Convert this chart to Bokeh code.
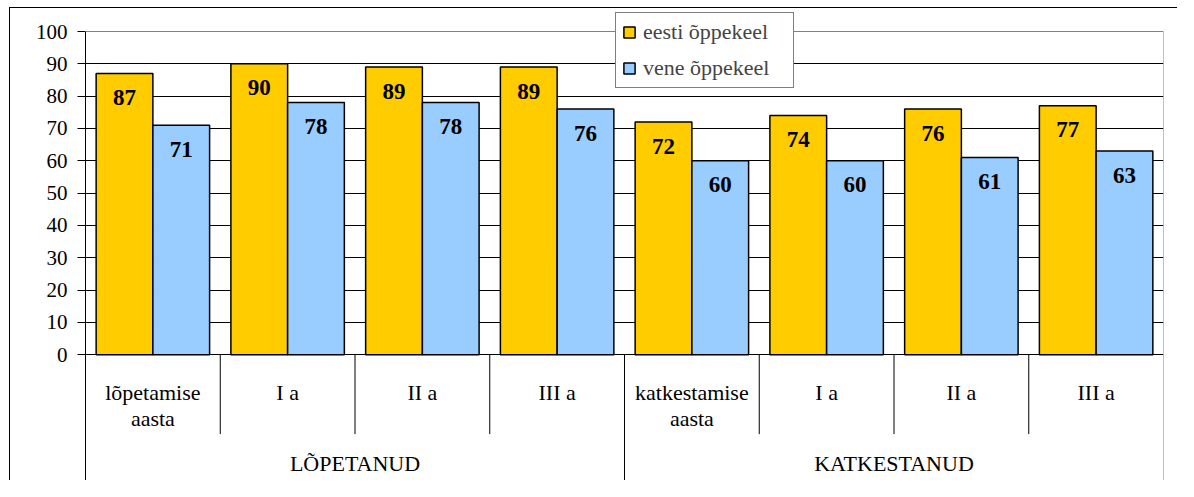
from bokeh.plotting import figure
from bokeh.layouts import column
from bokeh.models import ColumnDataSource, Range1d, FixedTicker, Span, Legend, LegendItem
from bokeh.core.properties import value
from bokeh.embed import file_html
from bokeh.resources import INLINE

# ---- data ----
categories = ["lõpetamise\naasta", "I a", "II a", "III a",
              "katkestamise\naasta", "I a", "II a", "III a"]
groups = ["LÕPETANUD", "KATKESTANUD"]
group_sizes = [4, 4]
series_names = ["eesti õppekeel", "vene õppekeel"]
eesti = [87, 90, 89, 89, 72, 74, 76, 77]
vene = [71, 78, 78, 76, 60, 60, 61, 63]
y_ticks = list(range(0, 101, 10))

# ---- layout ----
FONT = "Liberation Serif"
PAD_L, PAD_T = 9, 7
W, H = 1178 - PAD_L - 1, 481 - PAD_T - 1      # canvas size (1px border top/left)
ML, MR = 75, 15
PX_PER_100 = 323.25
Y100 = 23.0                                     # canvas y of the 100 line
Y0 = Y100 + PX_PER_100                          # canvas y of the 0 line
u = 100 / 334.0                                 # data units per reference pixel
y_top = 100 + Y100 * 100 / PX_PER_100
y_min = -(H - Y0) * 100 / PX_PER_100

n = len(categories)
p = figure(width=W, height=H, x_range=Range1d(0, n), y_range=Range1d(y_min, y_top),
           output_backend="svg", toolbar_location=None, title=None,
           x_axis_location=None,
           min_border_left=ML, min_border_top=0, min_border_right=MR, min_border_bottom=0)
p.styles = {"border-top": "1px solid #000", "border-left": "1px solid #000"}
p.outline_line_color = None
p.background_fill_color = "white"
p.border_fill_color = "white"

p.xgrid.visible = False
p.ygrid.ticker = FixedTicker(ticks=y_ticks[:-1])
p.ygrid.grid_line_color = "black"
p.ygrid.grid_line_width = 1

ax = p.yaxis[0]
ax.ticker = FixedTicker(ticks=y_ticks)
ax.bounds = (y_min, 100)
ax.axis_line_color = "black"
ax.major_tick_line_color = "black"
ax.major_tick_out = 8
ax.major_tick_in = 0
ax.minor_tick_line_color = None
ax.major_label_standoff = 10
ax.major_label_text_font = FONT
ax.major_label_text_font_size = "21px"
ax.major_label_text_color = "black"

p.add_layout(Span(location=100, dimension="width", line_color="#808080", line_width=1))
p.segment(x0=[n], y0=[y_min], x1=[n], y1=[100], line_color="#808080", line_width=1)

off = 0.2105
bw = 0.421
src = ColumnDataSource(dict(
    x_e=[i + 0.5 - off for i in range(n)],
    x_v=[i + 0.5 + off for i in range(n)],
    eesti=eesti, vene=vene,
    lab_e=[str(v) for v in eesti], lab_v=[str(v) for v in vene],
))
r1 = p.vbar(x="x_e", top="eesti", bottom=0, width=bw, fill_color="#FFCC00",
            line_color="black", line_width=1.5, source=src)
r2 = p.vbar(x="x_v", top="vene", bottom=0, width=bw, fill_color="#99CCFF",
            line_color="black", line_width=1.5, source=src)
for xc, yc, lab in (("x_e", "eesti", "lab_e"), ("x_v", "vene", "lab_v")):
    p.text(x=xc, y=yc, text=lab, source=src, text_font=value(FONT),
           text_font_style="bold", text_font_size="23px", text_color="black",
           text_align="center", text_baseline="middle", y_offset=24)

# category labels
lines1 = [c.split("\n")[0] for c in categories]
lines2 = [c.split("\n")[1] if "\n" in c else "" for c in categories]
csrc = ColumnDataSource(dict(x=[i + 0.5 for i in range(n)], l1=lines1, l2=lines2))
p.text(x="x", y=-39 * u, text="l1", source=csrc, text_font=value(FONT),
       text_font_size="22px", text_color="black", text_align="center", text_baseline="middle")
p.text(x="x", y=-66 * u, text="l2", source=csrc, text_font=value(FONT),
       text_font_size="22px", text_color="black", text_align="center", text_baseline="middle")

# separators
bounds = []
s = 0
for g in group_sizes:
    s += g
    bounds.append(s)
short_x = [i for i in range(1, n) if i not in bounds]
long_x = [b for b in bounds if b < n]
p.segment(x0=short_x, y0=[0] * len(short_x), x1=short_x, y1=[-82 * u] * len(short_x),
          line_color="black", line_width=1)
p.segment(x0=long_x, y0=[0] * len(long_x), x1=long_x, y1=[y_min] * len(long_x),
          line_color="black", line_width=1)

# group labels
gx = []
s = 0
for g in group_sizes:
    gx.append(s + g / 2)
    s += g
gsrc = ColumnDataSource(dict(x=gx, t=groups))
p.text(x="x", y=-112 * u, text="t", source=gsrc, text_font=value(FONT),
       text_font_size="22px", text_color="black", text_align="center", text_baseline="middle")

legend = Legend(items=[LegendItem(label=series_names[0], renderers=[r1]),
                       LegendItem(label=series_names[1], renderers=[r2])],
                location=(530, 393), orientation="vertical",
                border_line_color="black", border_line_width=1,
                padding=6, spacing=10, glyph_width=14, glyph_height=14,
                label_standoff=7, label_width=144, label_height=26,
                label_text_font=FONT, label_text_font_size="22px",
                label_text_baseline="middle",
                margin=0, background_fill_color="white", background_fill_alpha=1)
p.add_layout(legend)

root = column(p, styles={"padding-left": f"{PAD_L}px", "padding-top": f"{PAD_T}px",
                         "background-color": "white"})

open("out.html", "w").write(file_html(root, INLINE))
